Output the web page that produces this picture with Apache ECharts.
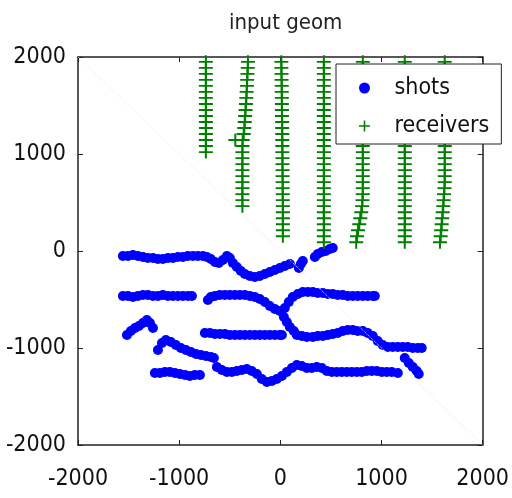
<!DOCTYPE html>
<html>
<head>
<meta charset="utf-8">
<script src="https://cdn.jsdelivr.net/npm/echarts@6/dist/echarts.min.js"></script>
<style>
  html, body { margin: 0; padding: 0; background: #fff; }
  #chart { width: 512px; height: 498px; }
</style>
</head>
<body>
<div id="chart"></div>
<script>
// 坐标轴刻度
var axisTicks = [-2000, -1000, 0, 1000, 2000];

// 炮点 (shots)，按行读取
var shotRowA = [[-1556,-52],[-1506,-52],[-1457,-41],[-1408,-52],[-1358,-62],[-1309,-72],[-1259,-72],[-1210,-82],[-1161,-82],[-1111,-72],[-1062,-72],[-1012,-62],[-963,-62],[-914,-52],[-864,-52],[-815,-52],[-765,-52],[-726,-62],[-687,-82],[-647,-113],[-608,-124],[-568,-93],[-528,-52],[-499,-72],[-469,-124],[-430,-165],[-390,-206],[-351,-237],[-301,-258],[-252,-268],[-203,-258],[-153,-237],[-104,-216],[-54,-196],[-5,-175],[44,-155],[94,-134],[183,-175],[203,-134],[222,-103],[341,-62],[370,-31],[410,-10],[449,0],[489,21],[518,31]];
var shotRowB = [[-1556,-464],[-1506,-464],[-1457,-475],[-1408,-464],[-1358,-454],[-1309,-454],[-1259,-464],[-1210,-464],[-1161,-454],[-1111,-464],[-1062,-464],[-1012,-464],[-963,-464],[-914,-464],[-874,-464],
  [-716,-505],[-687,-474],[-647,-464],[-598,-454],[-548,-454],[-499,-454],[-449,-454],[-400,-454],[-351,-454],[-301,-464],[-252,-474],[-203,-495],[-153,-526],[-104,-567],[-54,-598],[-5,-619],[44,-588],[84,-526],[123,-474],[173,-443],[222,-423],[272,-423],[321,-423],[370,-433],[420,-433],[469,-443],[518,-443],[568,-454],[617,-454],[667,-464],[716,-464],[765,-464],[815,-464],[864,-464],[914,-464],[934,-464],
  [35,-680],[64,-732],[94,-784],[133,-825]];
var shotRowC = [[-1516,-866],[-1477,-825],[-1437,-794],[-1398,-773],[-1358,-742],[-1319,-711],[-1289,-742],[-1259,-794],
  [-746,-846],[-696,-846],[-647,-856],[-598,-856],[-548,-856],[-499,-866],[-449,-866],[-400,-866],[-351,-866],[-301,-866],[-252,-866],[-203,-866],[-153,-866],[-104,-866],[-54,-866],[-5,-866],[15,-866],
  [163,-866],[212,-876],[262,-887],[321,-887],[370,-876],[420,-876],[469,-866],[518,-856],[568,-845],[617,-825],[667,-814],[716,-814],[765,-825],[815,-825],[864,-845],[914,-876],[963,-928],[1012,-969],[1062,-990],[1111,-990],[1161,-990],[1210,-990],[1259,-990],[1309,-1000],[1358,-1000],[1398,-1000]];
var shotRowD = [[-1210,-1021],[-1170,-949],[-1131,-918],[-1082,-938],[-1032,-969],[-983,-1000],[-933,-1021],[-884,-1041],[-834,-1062],[-785,-1072],[-736,-1083],[-686,-1093],[-657,-1103]];
var shotRowE = [[-1240,-1258],[-1190,-1258],[-1141,-1248],[-1092,-1248],[-1042,-1258],[-993,-1268],[-943,-1279],[-894,-1289],[-845,-1279],[-795,-1279],
  [-627,-1196],[-578,-1227],[-528,-1248],[-479,-1248],[-430,-1237],[-380,-1227],[-331,-1217],[-282,-1237],[-232,-1268],[-183,-1320],[-133,-1351],[-84,-1340],[-35,-1320],[15,-1289],[64,-1248],[114,-1206],[163,-1175],[212,-1186],[262,-1206],[311,-1206],[360,-1196],[410,-1206],[459,-1237],[509,-1248],[558,-1248],[607,-1248],[657,-1248],[706,-1248],[756,-1248],[805,-1248],[855,-1237],[904,-1237],[953,-1237],[1003,-1248],[1052,-1248],[1101,-1248],[1161,-1258],
  [1230,-1103],[1270,-1155],[1309,-1196],[1348,-1237],[1368,-1268]];

// 检波点 (receivers)，按测线读取
var recvLine1 = [[-736,1950],[-736,1888],[-736,1826],[-736,1764],[-736,1702],[-736,1640],[-736,1578],[-736,1516],[-736,1454],[-736,1392],[-736,1330],[-736,1268],[-736,1206],[-736,1144],[-736,1082],[-736,1020]];
var recvLine2 = [[-320,1950],[-322,1888],[-325,1826],[-328,1764],[-330,1702],[-333,1640],[-336,1578],[-340,1516],[-344,1454],[-348,1392],[-352,1330],[-356,1268],[-362,1206],[-445,1144],[-372,1144],[-375,1082],[-375,1020],[-375,958],[-375,896],[-375,834],[-375,772],[-375,710],[-375,648],[-375,586],[-375,524],[-375,462]];
var recvLine3 = [[10,1950],[10,1888],[12,1826],[12,1764],[14,1702],[14,1640],[15,1578],[15,1516],[16,1454],[16,1392],[18,1330],[18,1268],[19,1206],[19,1144],[20,1082],[20,1020],[21,958],[21,896],[22,834],[22,772],[23,710],[23,648],[24,586],[24,524],[25,462],[25,400],[25,338],[25,276],[25,214],[25,152]];
var recvLine4 = [[430,1950],[430,1888],[430,1826],[430,1764],[430,1702],[430,1640],[430,1578],[430,1516],[430,1454],[430,1392],[430,1330],[430,1268],[430,1206],[430,1144],[430,1082],[430,1020],[430,958],[430,896],[430,834],[430,772],[430,710],[430,648],[430,586],[430,524],[430,462],[430,400],[430,338],[430,276],[430,214],[430,152],[430,90]];
var recvLine5 = [[815,1950],[815,1888],[815,1826],[815,1764],[815,1702],[815,1640],[815,1578],[815,1516],[815,1454],[815,1392],[815,1330],[815,1268],[815,1206],[815,1144],[815,1082],[815,1020],[815,958],[815,896],[815,834],[815,772],[815,710],[815,648],[815,586],[812,524],[808,462],[800,400],[790,338],[780,276],[768,214],[758,152],[750,90]];
var recvLine6 = [[1230,1950],[1230,1888],[1230,1826],[1230,1764],[1230,1702],[1230,1640],[1230,1578],[1230,1516],[1230,1454],[1230,1392],[1230,1330],[1230,1268],[1230,1206],[1230,1144],[1230,1082],[1230,1020],[1230,958],[1230,896],[1230,834],[1230,772],[1230,710],[1230,648],[1230,586],[1230,524],[1230,462],[1230,400],[1230,338],[1230,276],[1230,214],[1230,152],[1230,90]];
var recvLine7 = [[1625,1950],[1625,1888],[1625,1826],[1625,1764],[1625,1702],[1625,1640],[1625,1578],[1625,1516],[1625,1454],[1625,1392],[1625,1330],[1625,1268],[1625,1206],[1625,1144],[1625,1082],[1625,1020],[1625,958],[1625,896],[1625,834],[1625,772],[1625,710],[1622,648],[1618,586],[1614,524],[1610,462],[1605,400],[1600,338],[1595,276],[1590,214],[1585,152],[1578,90]];

var shots = [].concat(shotRowA, shotRowB, shotRowC, shotRowD, shotRowE);
var receivers = [].concat(recvLine1, recvLine2, recvLine3, recvLine4, recvLine5, recvLine6, recvLine7);

var plusPath = 'path://M0,6H14V8H0Z M6,0H8V14H6Z';
var fontFam = '"Liberation Sans Narrow", "DejaVu Sans Condensed", sans-serif';

var myChart = echarts.init(document.getElementById('chart'));

function makeAxis(pos, showLabel, isX) {
    return {
        type: 'value',
        position: pos,
        min: axisTicks[0],
        max: axisTicks[axisTicks.length - 1],
        interval: 1000,
        axisLine: { show: true, onZero: false, lineStyle: { color: '#222', width: 1.5 } },
        axisTick: { show: true, inside: true, length: 5, lineStyle: { color: '#222', width: 1 } },
        axisLabel: {
            show: showLabel,
            color: '#111',
            fontSize: 23,
            fontFamily: fontFam,
            margin: isX ? 23 : 12,
            formatter: function (v) { return String(v); }
        },
        splitLine: { show: false }
    };
}

var option = {
    animation: false,
    backgroundColor: '#fff',
    title: {
        text: 'input geom',
        left: 224,
        top: 7,
        textStyle: { fontSize: 22, fontWeight: 'normal', color: '#222', fontFamily: fontFam }
    },
    grid: { left: 78, right: 29, top: 57, bottom: 53 },
    legend: {
        orient: 'vertical',
        left: 336,
        top: 64,
        padding: [11, 12, 5, 23],
        itemWidth: 50,
        itemHeight: 11,
        itemGap: 12,
        backgroundColor: '#fff',
        borderColor: '#222',
        borderWidth: 1,
        borderRadius: 0,
        textStyle: { fontSize: 23, lineHeight: 26, color: '#111', fontFamily: fontFam },
        data: [
            { name: 'shots', icon: 'circle' },
            { name: 'receivers', icon: plusPath }
        ]
    },
    xAxis: [makeAxis('bottom', true, true), makeAxis('top', false, true)],
    yAxis: [makeAxis('left', true, false), makeAxis('right', false, false)],
    series: [
        {
            name: 'shots',
            type: 'scatter',
            symbol: 'circle',
            symbolSize: 10,
            itemStyle: { color: '#0000ff', opacity: 1 },
            data: shots,
            markLine: {
                silent: true,
                symbol: 'none',
                label: { show: false },
                lineStyle: { color: '#ececec', type: 'dotted', width: 1 },
                data: [[{ coord: [-2000, 2000] }, { coord: [2000, -2000] }]]
            }
        },
        {
            name: 'receivers',
            type: 'scatter',
            symbol: plusPath,
            symbolSize: [14, 13],
            itemStyle: { color: '#008000', opacity: 1 },
            data: receivers
        }
    ]
};
myChart.setOption(option);
</script>
</body>
</html>
